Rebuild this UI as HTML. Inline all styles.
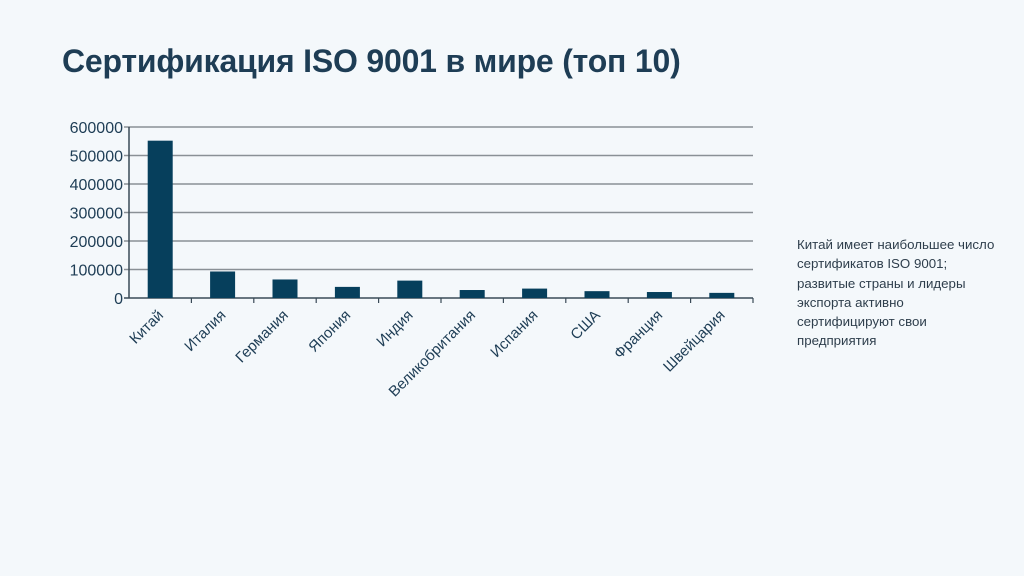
<!DOCTYPE html>
<html><head><meta charset="utf-8"><style>
body{margin:0;width:1024px;height:576px;background:#f4f8fb;font-family:"Liberation Sans",sans-serif;overflow:hidden;position:relative}
h1{position:absolute;left:62px;top:43px;margin:0;font-size:32px;font-weight:bold;color:#1e3d55;letter-spacing:-0.2px}
#note{position:absolute;left:797px;top:235px;width:200px;font-size:13.3px;line-height:19.3px;color:#2e3e4c}
</style></head><body>
<h1>Сертификация ISO 9001 в мире (топ 10)</h1>
<svg id="chart" width="1024" height="576" style="position:absolute;left:0;top:0"></svg>
<div id="note">Китай имеет наибольшее число сертификатов ISO 9001; развитые страны и лидеры экспорта активно сертифицируют свои предприятия</div>
<script>
const categories=["Китай","Италия","Германия","Япония","Индия","Великобритания","Испания","США","Франция","Швейцария"];
const values=[552000,93000,65000,39000,61000,28000,33000,24000,21000,18000];
const ticks=[0,100000,200000,300000,400000,500000,600000];
const NS="http://www.w3.org/2000/svg";
const svg=document.getElementById('chart');
const X0=129,X1=753,Y0=298,Y1=127,MAX=600000;
const y=v=>Y0-(v/MAX)*(Y0-Y1);
const bw=(X1-X0)/categories.length;
const x=i=>X0+bw*i;
function mk(t,a){const e=document.createElementNS(NS,t);for(const k in a)e.setAttribute(k,a[k]);svg.appendChild(e);return e;}
ticks.forEach(t=>{
  const l=mk('line',{x1:X0-5,x2:X1,y1:y(t),y2:y(t),stroke:t===0?'#3a4a57':'#8a9096','stroke-width':t===0?1.5:1.4});
  
  
  const tx=mk('text',{x:X0-6,y:y(t)+6,'text-anchor':'end','font-size':16,fill:'#1e3d55','font-family':'Liberation Sans, sans-serif'});
  tx.textContent=t;
  
  
});
mk('line',{x1:X0,x2:X0,y1:Y1,y2:Y0,stroke:'#3a4a57','stroke-width':1.5});
categories.forEach((c,i)=>{
  const tk=mk('line',{x1:x(i+1),x2:x(i+1),y1:Y0,y2:Y0+5,stroke:'#3a4a57','stroke-width':1.2});
  
  
  const cx=x(i)+bw/2;
  const b=mk('rect',{x:cx-12.5,y:y(values[i]),width:25,height:Y0-y(values[i]),fill:'#063f5c'});
  
  
  const t=mk('text',{x:cx+4,y:Y0+18,'text-anchor':'end','font-size':15,fill:'#1e3d55',transform:`rotate(-45 ${cx+4} ${Y0+18})`,'font-family':'Liberation Sans, sans-serif'});
  t.textContent=c;
  
  
});
</script>
</body></html>
